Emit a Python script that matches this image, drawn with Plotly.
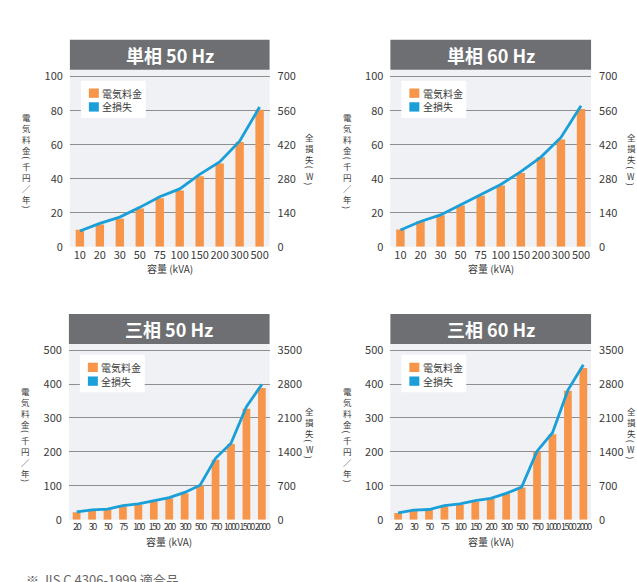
import plotly.graph_objects as go

# ---- data -------------------------------------------------------------
cats_single = ["10", "20", "30", "50", "75", "100", "150", "200", "300", "500"]
cats_three = ["20", "30", "50", "75", "100", "150", "200", "300", "500",
              "750", "1000", "1500", "2000"]

# electricity cost (thousand yen / year) and total loss (W)
s50_cost = [10, 13, 16.5, 22.5, 28.5, 33, 41.5, 49, 61.5, 80.5]
s50_loss = [65, 96, 122, 162, 206, 238, 298, 349, 434, 575]
s60_cost = [10.2, 15, 18.5, 24.3, 30, 36, 43.3, 52.6, 63, 81]
s60_loss = [69, 104, 131, 172, 214, 256, 309, 369, 450, 580]
t50_cost = [22, 28, 31, 39, 44, 54, 63, 78, 101, 177, 223, 327, 388]
t50_loss = [162, 203, 217, 291, 325, 392, 455, 562, 711, 1267, 1579, 2331, 2793]
t60_cost = [20, 26, 29, 39, 44, 53, 61, 75.5, 95, 200, 252, 380, 447]
t60_loss = [142, 196, 210, 291, 325, 392, 441, 542, 671, 1414, 1796, 2674, 3199]

titles = ["単相 50 Hz", "単相 60 Hz", "三相 50 Hz", "三相 60 Hz"]
cost_ticks_single = [0, 20, 40, 60, 80, 100]
loss_ticks_single = [0, 140, 280, 420, 560, 700]
cost_ticks_three = [0, 100, 200, 300, 400, 500]
loss_ticks_three = [0, 700, 1400, 2100, 2800, 3500]

# ---- styling ----------------------------------------------------------
W, H = 637, 582
ORANGE = "#f7964a"
BLUE = "#1a9fd9"
BAR_GRAY = "#6e6f72"
PLOT_BG = "#eff1f4"
GRID = "#8e8e8e"
TEXT = "#3a3a3a"
FONT = "Noto Sans CJK JP"
TIGHT = "letter-spacing:-1.7px"   # squeeze the crowded three-phase labels
VFONT = 8.5                       # vertical title glyph size
VLINE = VFONT * 1.3               # plotly line pitch for <br>


def fx(x):
    return x / W


def fy(y):
    return 1 - y / H


panels = [
    dict(cats=cats_single, cost=s50_cost, loss=s50_loss, x0=70, x1=270, top=68, bottom=248,
         r1=104, r2=728, t1=cost_ticks_single, t2=loss_ticks_single, gap=0.58, tight=False),
    dict(cats=cats_single, cost=s60_cost, loss=s60_loss, x0=391, x1=592, top=68, bottom=248,
         r1=104, r2=728, t1=cost_ticks_single, t2=loss_ticks_single, gap=0.58, tight=False),
    dict(cats=cats_three, cost=t50_cost, loss=t50_loss, x0=69, x1=270, top=347, bottom=525.7,
         r1=518, r2=3626, t1=cost_ticks_three, t2=loss_ticks_three, gap=0.5, tight=True),
    dict(cats=cats_three, cost=t60_cost, loss=t60_loss, x0=391, x1=592, top=347, bottom=525.7,
         r1=518, r2=3626, t1=cost_ticks_three, t2=loss_ticks_three, gap=0.5, tight=True),
]

fig = go.Figure()
layout = dict(
    width=W, height=H,
    margin=dict(l=0, r=0, t=0, b=0),
    paper_bgcolor="white",
    plot_bgcolor=PLOT_BG,
    showlegend=False,
    font=dict(family=FONT, color=TEXT, size=11),
)
shapes = []
annotations = []


def vertical_title(pieces, xc, center):
    """Stack text upright: runs of glyphs joined by <br>, brackets turned 90°."""
    heights = [6 if s in ("(", ")") else VLINE * len(s) for s in pieces]
    y = center - sum(heights) / 2
    for s, h in zip(pieces, heights):
        bracket = s in ("(", ")")
        annotations.append(dict(
            text=s if bracket else "<br>".join(s), xref="paper", yref="paper",
            x=fx(xc), y=fy(y + h / 2), showarrow=False,
            xanchor="center", yanchor="middle", borderpad=0,
            textangle=90 if bracket else 0,
            font=dict(family=FONT, size=VFONT, color=TEXT)))
        y += h


for i, p in enumerate(panels):
    n = i + 1
    xa = "x" if n == 1 else f"x{n}"
    ya = f"y{2 * i + 1}" if i else "y"
    yb = f"y{2 * i + 2}"
    xkey = "xaxis" if n == 1 else f"xaxis{n}"
    ykey = "yaxis" if i == 0 else f"yaxis{2 * i + 1}"
    ykey2 = f"yaxis{2 * i + 2}"

    fig.add_trace(go.Bar(
        x=p["cats"], y=p["cost"], xaxis=xa, yaxis=ya,
        marker=dict(color=ORANGE, line=dict(width=0)),
        width=1 - p["gap"], name="電気料金",
    ))
    fig.add_trace(go.Scatter(
        x=p["cats"], y=p["loss"], xaxis=xa, yaxis=yb, mode="lines",
        line=dict(color=BLUE, width=2.8), name="全損失",
    ))

    if p["tight"]:
        ticktext = [f'<span style="{TIGHT}">{c}</span>' for c in p["cats"]]
        tickfont_x = dict(family=FONT, size=9.5, color=TEXT)
    else:
        ticktext = p["cats"]
        tickfont_x = dict(family=FONT, size=11, color=TEXT)
    layout[xkey] = dict(
        domain=[fx(p["x0"]), fx(p["x1"])], anchor=ya, type="category",
        tickvals=p["cats"], ticktext=ticktext,
        showgrid=False, zeroline=False, showline=False, ticks="",
        tickangle=0, tickfont=tickfont_x, ticklabelstandoff=0,
    )
    layout[ykey] = dict(
        domain=[fy(p["bottom"]), fy(p["top"])], anchor=xa,
        range=[0, p["r1"]], tickvals=p["t1"], showgrid=True,
        gridcolor=GRID, gridwidth=1, zeroline=False, showline=False,
        ticks="", tickfont=dict(size=11, color=TEXT), ticklabelstandoff=6,
    )
    layout[ykey2] = dict(
        overlaying=ya, side="right", anchor=xa,
        range=[0, p["r2"]], tickvals=p["t2"], showgrid=False,
        zeroline=False, showline=False, ticks="",
        tickfont=dict(size=11, color=TEXT), ticklabelstandoff=7,
    )

    # title band above each panel
    tb_top = p["top"] - 30.5
    shapes.append(dict(type="rect", xref="paper", yref="paper",
                       x0=fx(p["x0"]), x1=fx(p["x1"]), y0=fy(p["top"]), y1=fy(tb_top),
                       fillcolor=BAR_GRAY, line=dict(width=0), layer="above"))
    annotations.append(dict(text=f"<b>{titles[i]}</b>", xref="paper", yref="paper",
                            x=fx((p["x0"] + p["x1"]) / 2), y=fy((p["top"] + tb_top) / 2),
                            showarrow=False, xanchor="center", yanchor="middle",
                            font=dict(family=FONT, size=18, color="white")))

    # legend box
    lx, ly = p["x0"] + 11, p["top"] + 11
    shapes.append(dict(type="rect", xref="paper", yref="paper",
                       x0=fx(lx), x1=fx(lx + 65), y0=fy(ly + 38), y1=fy(ly),
                       fillcolor="white", line=dict(width=0), layer="above"))
    for k, (label, col) in enumerate([("電気料金", ORANGE), ("全損失", BLUE)]):
        sy = ly + 8 + k * 14
        shapes.append(dict(type="rect", xref="paper", yref="paper",
                           x0=fx(lx + 8), x1=fx(lx + 18), y0=fy(sy + 9.5), y1=fy(sy),
                           fillcolor=col, line=dict(width=0), layer="above"))
        annotations.append(dict(text=label, xref="paper", yref="paper",
                                x=fx(lx + 20.5), y=fy(sy + 4.8), showarrow=False,
                                xanchor="left", yanchor="middle", borderpad=0,
                                font=dict(family=FONT, size=10, color=TEXT)))

    # x-axis title
    annotations.append(dict(text="容量 (kVA)", xref="paper", yref="paper",
                            x=fx((p["x0"] + p["x1"]) / 2), y=fy(p["bottom"] + 22),
                            showarrow=False, xanchor="center", yanchor="middle",
                            borderpad=0, font=dict(family=FONT, size=10, color=TEXT)))

    # upright axis titles on both sides
    mid = (p["top"] + p["bottom"]) / 2
    vertical_title(["電気料金", "(", "千円／年", ")"], p["x0"] - 43, mid + 3)
    vertical_title(["全損失", "(", "W", ")"], p["x1"] + 40, mid + 1)

annotations.append(dict(text="※ JIS C 4306-1999 適合品", xref="paper", yref="paper",
                        x=fx(24), y=fy(574.5), showarrow=False, xanchor="left", yanchor="top",
                        font=dict(family=FONT, size=13, color="#666666")))

layout["shapes"] = shapes
layout["annotations"] = annotations
fig.update_layout(**layout)
fig.write_html("out.html")
